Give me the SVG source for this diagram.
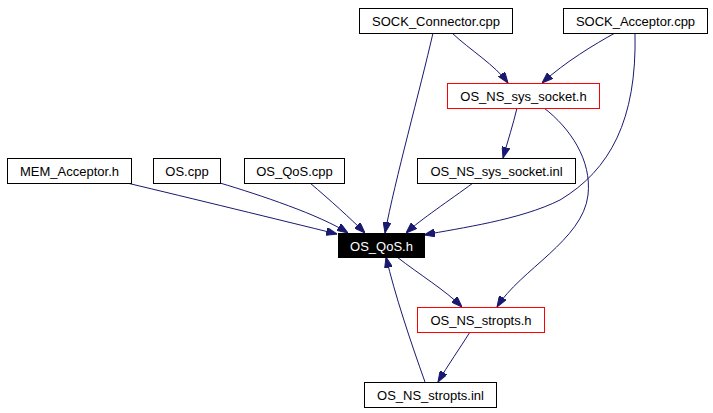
<svg xmlns="http://www.w3.org/2000/svg" width="713" height="413" viewBox="0 0 713 413">
<style>
.n rect{fill:#fff;stroke:#000;stroke-width:1}
.n.r rect{stroke:#f00}
.n.k rect{fill:#000}
.n text{font-family:"Liberation Sans",Arial,sans-serif;font-size:13px;text-anchor:middle;fill:#000}
.n.k text{fill:#fff}
#edges path{fill:none;stroke:#191970;stroke-width:1;marker-end:url(#ah)}
</style>
<defs>
<marker id="ah" viewBox="0 0 11 8" refX="11" refY="4" markerWidth="11" markerHeight="8" markerUnits="userSpaceOnUse" orient="auto">
<path d="M0,0 L11,4 L0,8 z" fill="#191970" stroke="#191970"/>
</marker>
</defs>
<rect width="713" height="413" fill="#fff"/>
<g id="edges">
<path d="M452,33 C470,50 495,65 508,83"/>
<path d="M615,33 C595,44 565,62 542,83"/>
<path d="M433,33 C420,90 395,180 385,233"/>
<path d="M635,33 C637,120 610,170 560,200 C520,220 460,228 424,235"/>
<path d="M517,108 C513,125 508,140 503,158"/>
<path d="M544,108 C570,128 592,160 588,195 C583,240 520,270 497,307"/>
<path d="M127,183 C190,198 280,220 337,234"/>
<path d="M220,183 C260,195 320,215 348,233"/>
<path d="M310,183 C330,200 350,218 365,233"/>
<path d="M473,183 C450,200 420,220 406,233"/>
<path d="M397,257 C420,275 445,290 462,307"/>
<path d="M470,332 C460,348 448,365 438,382"/>
<path d="M425,382 C410,340 395,295 386,257"/>
</g>
<g id="sock_connector" class="n"><rect x="359.5" y="8.5" width="153" height="25"/><text x="436" y="26">SOCK_Connector.cpp</text></g>
<g id="sock_acceptor" class="n"><rect x="563.5" y="8.5" width="144" height="25"/><text x="635.5" y="26">SOCK_Acceptor.cpp</text></g>
<g id="os_ns_sys_socket_h" class="n r"><rect x="447.5" y="83.5" width="152" height="25"/><text x="523.5" y="101">OS_NS_sys_socket.h</text></g>
<g id="mem_acceptor" class="n"><rect x="7.5" y="158.5" width="124" height="25"/><text x="69.5" y="176">MEM_Acceptor.h</text></g>
<g id="os_cpp" class="n"><rect x="153.5" y="158.5" width="67" height="25"/><text x="187" y="176">OS.cpp</text></g>
<g id="os_qos_cpp" class="n"><rect x="244.5" y="158.5" width="100" height="25"/><text x="294.5" y="176">OS_QoS.cpp</text></g>
<g id="os_ns_sys_socket_inl" class="n"><rect x="417.5" y="158.5" width="158" height="25"/><text x="496.5" y="176">OS_NS_sys_socket.inl</text></g>
<g id="os_qos_h" class="n k"><rect x="338.5" y="233.5" width="86" height="24"/><text x="381.5" y="250.5">OS_QoS.h</text></g>
<g id="os_ns_stropts_h" class="n r"><rect x="417.5" y="307.5" width="127" height="25"/><text x="481" y="325">OS_NS_stropts.h</text></g>
<g id="os_ns_stropts_inl" class="n"><rect x="364.5" y="382.5" width="132" height="25"/><text x="430.5" y="400">OS_NS_stropts.inl</text></g>
</svg>
